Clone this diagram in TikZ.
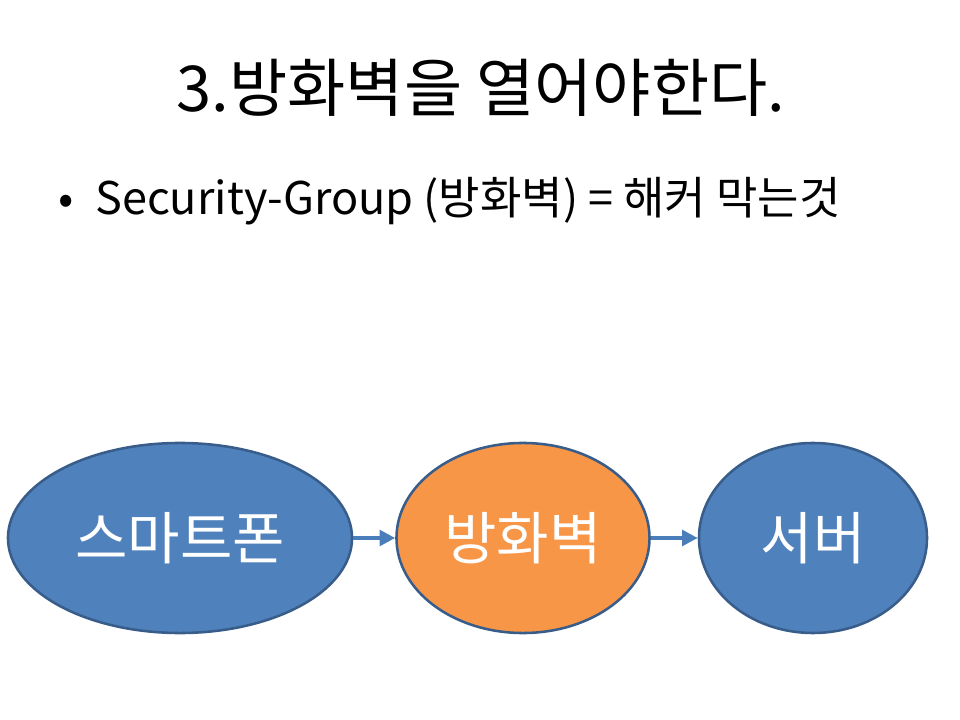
\documentclass[tikz,border=0pt]{standalone}
\usepackage{fontspec}
\setmainfont{Noto Sans CJK KR}
\usepackage{tikz}
\usetikzlibrary{shapes.geometric,arrows.meta,positioning}
\definecolor{myblue}{RGB}{79,129,189}
\definecolor{myorange}{RGB}{247,150,70}
\definecolor{myline}{RGB}{56,93,138}
\definecolor{myarrow}{RGB}{74,126,187}

\tikzset{
  blob/.style={ellipse, draw=myline, line width=1.8pt, text=white,
               font=\fontsize{40.5}{48}\selectfont, inner sep=0pt},
  link/.style={myarrow, line width=2.6pt, -{Triangle[length=11pt,width=11pt]}}
}

\begin{document}
\begin{tikzpicture}[x=0.025cm, y=-0.025cm]
  \useasboundingbox (0,0) rectangle (960,720);

  % title and bullet line
  \node[anchor=base, font=\fontsize{45}{54}\selectfont] (title) at (481,112)
    {3.방화벽을 열어야한다.};
  \node[anchor=base, font=\fontsize{32}{38}\selectfont] (dot) at (66,215) {•};
  \node[anchor=base west, inner sep=0pt, font=\fontsize{32}{38}\selectfont]
    (line) at (95,215) {Security-Group (방화벽) = 해커 막는것};

  % flow
  \node[blob, fill=myblue, minimum width=8.6cm, minimum height=4.75cm]
    (phone) at (180,538) {스마트폰};
  \node[blob, fill=myorange, minimum width=6.325cm, minimum height=4.75cm]
    (wall) at (523,538) {방화벽};
  \node[blob, fill=myblue, minimum width=5.7cm, minimum height=4.75cm]
    (server) at (813,538) {서버};

  \draw[link] (phone) -- (wall);
  \draw[link] (wall) -- (server);
\end{tikzpicture}
\end{document}
